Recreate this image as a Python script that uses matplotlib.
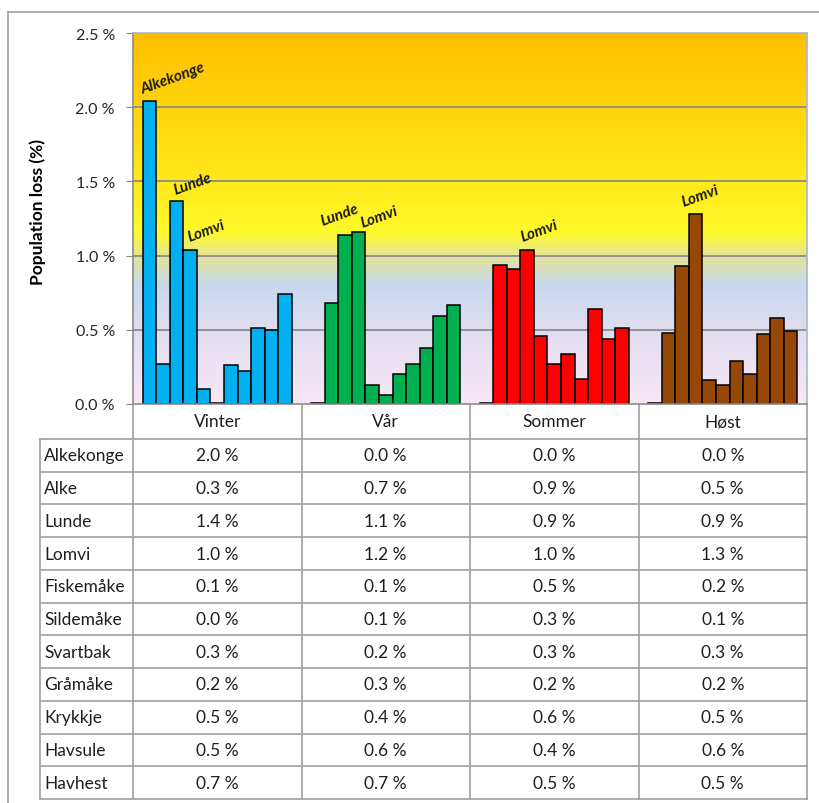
import numpy as np
import matplotlib.pyplot as plt
from matplotlib.colors import LinearSegmentedColormap

plt.rcParams['font.family'] = ['Lato', 'DejaVu Sans']

seasons = ["Vinter", "Vår", "Sommer", "Høst"]
species = ["Alkekonge", "Alke", "Lunde", "Lomvi", "Fiskemåke", "Sildemåke",
           "Svartbak", "Gråmåke", "Krykkje", "Havsule", "Havhest"]

# population loss (%) per species, one list per season
vinter = [2.04, 0.27, 1.37, 1.04, 0.10, 0.01, 0.26, 0.22, 0.51, 0.50, 0.74]
vaar = [0.01, 0.68, 1.14, 1.16, 0.13, 0.06, 0.20, 0.27, 0.38, 0.59, 0.67]
sommer = [0.005, 0.94, 0.91, 1.04, 0.46, 0.27, 0.34, 0.17, 0.64, 0.44, 0.51]
hoest = [0.005, 0.48, 0.93, 1.28, 0.16, 0.13, 0.29, 0.20, 0.47, 0.58, 0.49]

season_colors = ['#00B0F0', '#00B050', '#FF0000', '#974706']

# species named above their bar: (season index, species index)
callouts = [(0, 0), (0, 2), (0, 3), (1, 2), (1, 3), (2, 3), (3, 3)]
# text offsets from bar top-left corner, in pixels
callout_offsets = [(0, 8), (6, 7), (6, 9), (-16, 10), (11, 5), (2, 9), (-5, 8)]

values = np.array([vinter, vaar, sommer, hoest])

W, H = 819, 804
L, R, T, B = 133, 807, 34, 405          # plot area in pixels
TL, TB = 40, 800                         # table left / bottom
HEAD = 440                               # bottom of header row

fig = plt.figure(figsize=(W / 100, H / 100), dpi=100)
fig.patch.set_facecolor('white')
ax = fig.add_axes([L / W, 1 - B / H, (R - L) / W, (B - T) / H])

# background gradient of the plot area
stops = [(0.0, '#F8E8F6'), (0.20, '#E0DDF0'), (0.32, '#C7D8EE'),
         (0.40, '#E4E496'), (0.46, '#FFFA2C'), (0.60, '#FFE91A'),
         (1.0, '#FFBF00')]
cmap = LinearSegmentedColormap.from_list('bg', stops)
grad = np.linspace(0, 1, 400).reshape(-1, 1)
ax.imshow(grad, cmap=cmap, origin='lower', aspect='auto',
          extent=(-0.5, 3.5, 0, 2.5), zorder=0)

ax.set_xlim(-0.5, 3.5)
ax.set_ylim(0, 2.5)
yt = np.arange(0, 2.51, 0.5)
ax.set_yticks(yt)
ax.set_yticklabels([f"{v:.1f} %" for v in yt], fontsize=11.5, color='#262626')
ax.tick_params(axis='y', direction='out', length=5, color='#868686', pad=8)
ax.set_xticks([])
for y in yt[1:-1]:
    ax.axhline(y, color='#8C8C8C', lw=1.3, zorder=1)

n = len(species)
w = 1.0 / (n + 1.4)
for g in range(len(seasons)):
    x = g + (np.arange(n) - (n - 1) / 2) * w
    ax.bar(x, values[g], w, color=season_colors[g], edgecolor='black',
           linewidth=1.1, zorder=2)

for (g, s), (dx, dy) in zip(callouts, callout_offsets):
    x_left = g + (s - (n - 1) / 2) * w - w / 2
    ax.annotate(species[s], (x_left, values[g][s]), xytext=(dx, dy),
                textcoords='offset pixels', rotation=20,
                rotation_mode='anchor', ha='left', va='baseline',
                fontsize=11, fontweight='bold', fontstyle='italic',
                color='#1A1A1A', zorder=3)

ax.set_ylabel("Population loss (%)", fontsize=12.5, fontweight='bold')
ax.yaxis.set_label_coords(-(L - 46) / (R - L), 0.52)
for side in ['left', 'bottom']:
    ax.spines[side].set_color('#8C8C8C')
    ax.spines[side].set_linewidth(1.2)
for side in ['top', 'right']:
    ax.spines[side].set_color('#A9B6CC')
    ax.spines[side].set_linewidth(1.2)

# data table below the plot, drawn in pixel coordinates
tab = fig.add_axes([0, 0, 1, 1], zorder=-1)
tab.set_xlim(0, W)
tab.set_ylim(H, 0)
tab.axis('off')
line_kw = dict(color='#A0A0A0', lw=1.2)

col_edges = L + np.arange(len(seasons) + 1) * (R - L) / len(seasons)
row_h = (TB - HEAD) / n
row_edges = HEAD + np.arange(n + 1) * row_h

for xe in col_edges:
    tab.plot([xe, xe], [B, TB], **line_kw)
tab.plot([TL, TL], [HEAD, TB], **line_kw)
for ye in row_edges:
    tab.plot([TL, R], [ye, ye], **line_kw)

# outer chart frame
tab.plot([8, 8], [13, H], **line_kw)
tab.plot([8, W], [13, 13], **line_kw)

txt_kw = dict(fontsize=12.5, color='#1F1F1F', va='center')
for g, name in enumerate(seasons):
    cx = (col_edges[g] + col_edges[g + 1]) / 2
    tab.text(cx, (B + HEAD) / 2, name, ha='center', **txt_kw)
    for s in range(n):
        cy = (row_edges[s] + row_edges[s + 1]) / 2
        tab.text(cx, cy, f"{values[g][s]:.1f} %", ha='center', **txt_kw)
for s, name in enumerate(species):
    cy = (row_edges[s] + row_edges[s + 1]) / 2
    tab.text(TL + 4, cy, name, ha='left', **txt_kw)

fig.savefig("out.png", dpi=100)
